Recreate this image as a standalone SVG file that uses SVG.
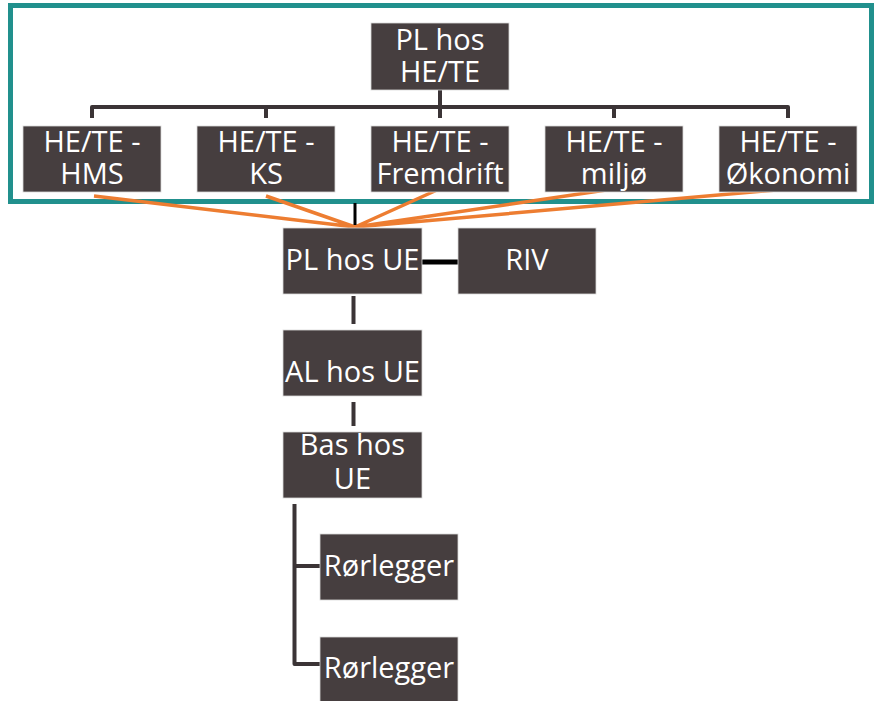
<svg xmlns="http://www.w3.org/2000/svg" width="878" height="701" viewBox="0 0 878 701">
<style>
.n rect{fill:#463e3f;stroke:#d9d9d9;stroke-width:0.8}
.n text{fill:#fff;font-family:"Open Sans","Liberation Sans",sans-serif;font-size:29px;text-anchor:middle}
.dk{stroke:#3b3436;stroke-width:4;fill:none;stroke-linejoin:round}
.bk{stroke:#000;fill:none}
.or{stroke:#ed7d31;stroke-width:3.5;fill:none}
</style>
<rect x="10.5" y="5.5" width="861" height="196" fill="none" stroke="#21908d" stroke-width="5"/>
<g id="connectors">
<path class="dk" d="M440 90V107M92 118V107H788V118M266 107V118M440 107V118M614 107V118"/>
<path class="or" d="M94 196L355 227M266 196L355 227M437 190L355 227M613 189L355 227M788 189L355 227"/>
<path class="bk" stroke-width="3" d="M355 203V225"/>
<path class="bk" stroke-width="5" d="M422 262H458"/>
<path class="dk" d="M353.5 296V324M353.5 402V426"/>
<path class="dk" d="M294.5 504V664H320M294.5 566H320"/>
</g>
<g id="pl-he-te" class="n"><rect x="371" y="23" width="138" height="67"/><text x="440" y="50">PL hos</text><text x="440" y="82">HE/TE</text></g>
<g id="he-te-hms" class="n"><rect x="23" y="126" width="138" height="66"/><text x="92" y="152">HE/TE -</text><text x="92" y="184">HMS</text></g>
<g id="he-te-ks" class="n"><rect x="197" y="126" width="138" height="66"/><text x="266" y="152">HE/TE -</text><text x="266" y="184">KS</text></g>
<g id="he-te-fremdrift" class="n"><rect x="371" y="126" width="138" height="66"/><text x="440" y="152">HE/TE -</text><text x="440" y="184">Fremdrift</text></g>
<g id="he-te-miljo" class="n"><rect x="545" y="126" width="138" height="66"/><text x="614" y="152">HE/TE -</text><text x="614" y="184">miljø</text></g>
<g id="he-te-okonomi" class="n"><rect x="719" y="126" width="138" height="66"/><text x="788" y="152">HE/TE -</text><text x="788" y="184">Økonomi</text></g>
<g id="pl-ue" class="n"><rect x="283" y="228" width="139" height="66"/><text x="352.5" y="270">PL hos UE</text></g>
<g id="riv" class="n"><rect x="458" y="228" width="138" height="66"/><text x="527" y="270">RIV</text></g>
<g id="al-ue" class="n"><rect x="283" y="330" width="139" height="66"/><text x="352.5" y="382">AL hos UE</text></g>
<g id="bas-ue" class="n"><rect x="283" y="432" width="139" height="66"/><text x="352.5" y="455">Bas hos</text><text x="352.5" y="489">UE</text></g>
<g id="rorlegger-1" class="n"><rect x="320" y="534" width="138" height="66"/><text x="389" y="576">Rørlegger</text></g>
<g id="rorlegger-2" class="n"><rect x="320" y="637" width="138" height="66"/><text x="389" y="678">Rørlegger</text></g>
</svg>
